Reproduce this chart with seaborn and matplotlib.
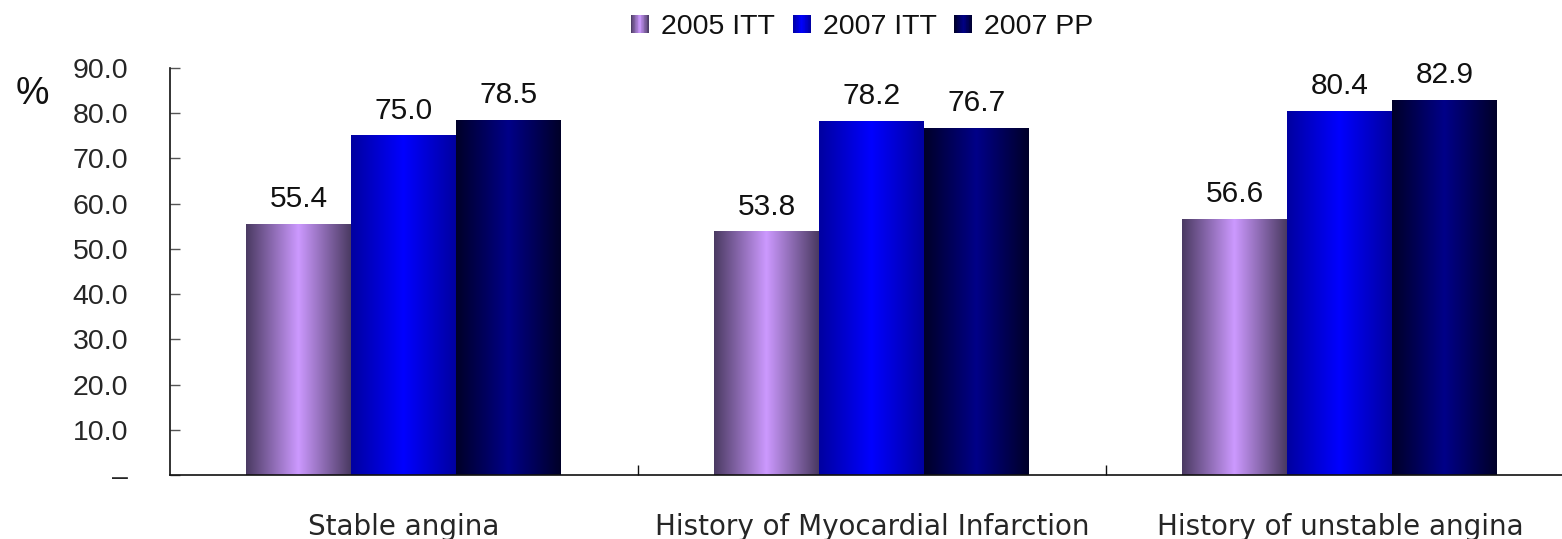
import numpy as np
import pandas as pd
import matplotlib
matplotlib.use('Agg')
import matplotlib.pyplot as plt
import seaborn as sns
from matplotlib.colors import LinearSegmentedColormap
from matplotlib.legend_handler import HandlerBase
from matplotlib.patches import Rectangle
from matplotlib.ticker import FuncFormatter, FixedLocator

categories = ['Stable angina', 'History of Myocardial Infarction', 'History of unstable angina']
series = ['2005 ITT', '2007 ITT', '2007 PP']
itt_2005 = [55.4, 53.8, 56.6]
itt_2007 = [75.0, 78.2, 80.4]
pp_2007 = [78.5, 76.7, 82.9]

# edge colour / centre colour of each bar gradient
shades = {
    '2005 ITT': ('#4a3a62', '#cc99ff'),
    '2007 ITT': ('#0000a0', '#0000ff'),
    '2007 PP': ('#000028', '#000088'),
}

df = pd.DataFrame({
    'category': categories * 3,
    'series': [s for s in series for _ in categories],
    'value': itt_2005 + itt_2007 + pp_2007,
})

sns.set_style('white')
plt.rcParams['font.family'] = ['Liberation Sans', 'DejaVu Sans']
plt.rcParams['text.color'] = '#111111'

fig = plt.figure(figsize=(15.62, 5.39), dpi=100)
ax = fig.add_axes([0.1088, 0.1187, 0.8988, 0.7551])

cmaps = {s: LinearSegmentedColormap.from_list(s, [e, c, e]) for s, (e, c) in shades.items()}
palette = {s: shades[s][1] for s in series}

sns.barplot(data=df, x='category', y='value', hue='series', order=categories,
            hue_order=series, palette=palette, width=0.673, saturation=1,
            legend=False, ax=ax)

# paint each bar with a horizontal gradient
grad = np.linspace(0, 1, 256).reshape(1, -1)
for s, cont in zip(series, ax.containers):
    for bar in cont:
        x0 = bar.get_x()
        w = bar.get_width()
        h = bar.get_height()
        ax.imshow(grad, cmap=cmaps[s], extent=[x0, x0 + w, 0, h],
                  aspect='auto', zorder=bar.get_zorder() + 0.1, interpolation='bilinear')
    ax.bar_label(cont, labels=[f'{v:.1f}' for v in cont.datavalues],
                 padding=8, fontsize=21.5, color='#111111')

ax.set_xlim(-0.5, 2.5)
ax.set_ylim(0, 90)
ax.set_xlabel('')
ax.set_ylabel('')

ax.yaxis.set_major_locator(FixedLocator(np.arange(0, 91, 10)))
ax.yaxis.set_major_formatter(FuncFormatter(lambda v, p: '–' if v == 0 else f'{v:.1f}'))
ax.tick_params(axis='y', direction='in', length=7, width=1, color='#555555',
               pad=30, labelsize=20.5, left=True)
ax.tick_params(axis='x', which='major', length=0, pad=27, labelsize=20)
ax.xaxis.set_minor_locator(FixedLocator([0.5, 1.5]))
ax.tick_params(axis='x', which='minor', direction='in', length=7, width=1,
               color='#111111', bottom=True)
for lbl in ax.get_xticklabels():
    lbl.set_fontfamily('DejaVu Sans')

for side in ['top', 'right']:
    ax.spines[side].set_visible(False)
for side in ['left', 'bottom']:
    ax.spines[side].set_color('#111111')
    ax.spines[side].set_linewidth(1.2)


class GradientHandler(HandlerBase):
    def __init__(self, cmap, n=24):
        super().__init__()
        self.cmap = cmap
        self.n = n

    def create_artists(self, legend, orig_handle, xdescent, ydescent,
                       width, height, fontsize, trans):
        arts = []
        for i in range(self.n):
            arts.append(Rectangle((-xdescent + i * width / self.n, -ydescent),
                                  width / self.n * 1.05, height,
                                  facecolor=self.cmap((i + 0.5) / self.n),
                                  edgecolor='none', transform=trans))
        return arts


handles = [Rectangle((0, 0), 1, 1) for _ in series]
fig.legend(handles, series, loc='center', bbox_to_anchor=(0.552, 0.95), ncol=3,
           frameon=False, fontsize=20.5, handlelength=0.63, handleheight=0.63,
           handletextpad=0.42, columnspacing=0.63,
           handler_map={h: GradientHandler(cmaps[s]) for h, s in zip(handles, series)})

fig.text(0.0205, 0.826, '%', fontsize=27, ha='center', va='center', color='#111111')

fig.savefig('out.png', dpi=100, facecolor='white')
